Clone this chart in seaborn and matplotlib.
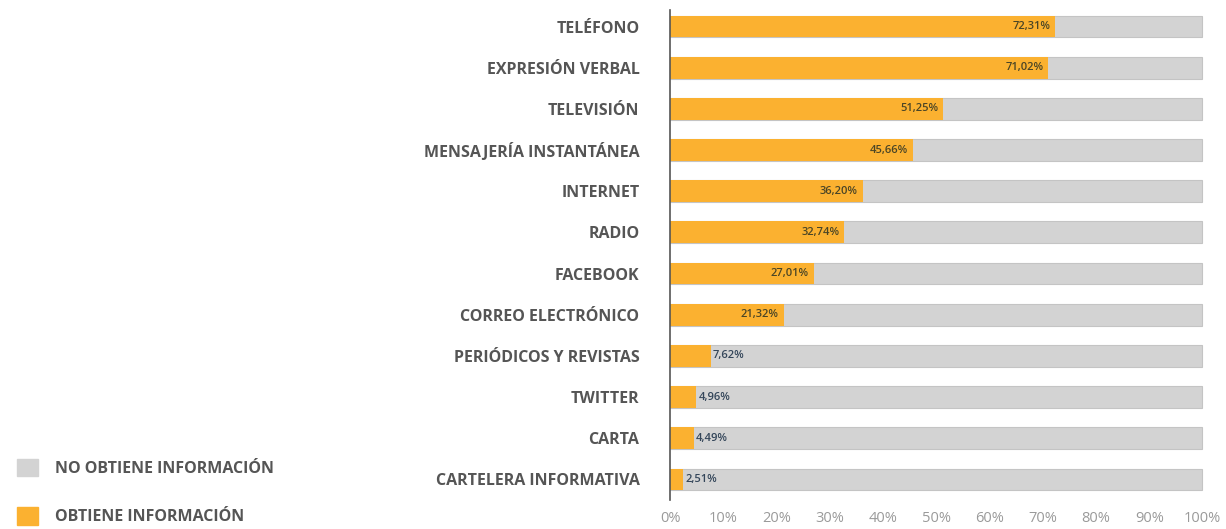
import numpy as np
import pandas as pd
import matplotlib
matplotlib.use("Agg")
import matplotlib.pyplot as plt
import matplotlib.patches as mpatches
import seaborn as sns

# data
medios = ["TELÉFONO", "EXPRESIÓN VERBAL", "TELEVISIÓN", "MENSAJERÍA INSTANTÁNEA",
          "INTERNET", "RADIO", "FACEBOOK", "CORREO ELECTRÓNICO",
          "PERIÓDICOS Y REVISTAS", "TWITTER", "CARTA", "CARTELERA INFORMATIVA"]
obtiene = [72.31, 71.02, 51.25, 45.66, 36.20, 32.74, 27.01, 21.32, 7.62, 4.96, 4.49, 2.51]
total = [100] * len(medios)
xticks = [0, 10, 20, 30, 40, 50, 60, 70, 80, 90, 100]

naranja = "#FBB130"
gris = "#D3D3D3"

sns.set_theme(style="white")
plt.rcParams["font.family"] = ["Open Sans", "DejaVu Sans"]

df = pd.DataFrame({"medio": medios, "obtiene": obtiene, "total": total})

fig = plt.figure(figsize=(12.26, 5.29), dpi=100)
ax = fig.add_axes([0.5465, 0.0548, 0.4365, 0.9262])

sns.barplot(data=df, y="medio", x="total", color=gris, width=0.53, saturation=1,
            edgecolor="#c4c4c4", linewidth=0.8, ax=ax)
sns.barplot(data=df, y="medio", x="obtiene", color=naranja, width=0.53, saturation=1,
            linewidth=0, ax=ax)

# value labels
for i, v in enumerate(obtiene):
    txt = f"{v:.2f}%".replace(".", ",")
    if v >= 10:
        ax.text(v - 0.9, i, txt, ha="right", va="center", fontsize=8,
                color="#4a4526", fontweight="semibold")
    else:
        ax.text(v + 0.4, i, txt, ha="left", va="center", fontsize=8,
                color="#34465a", fontweight="semibold")

ax.set_xlim(0, 100.5)
ax.set_ylim(11.5, -0.4)
ax.set_xticks(xticks)
ax.set_xticklabels([f"{t}%" for t in xticks])
ax.set_xlabel("")
ax.set_ylabel("")
ax.tick_params(axis="x", length=0, pad=8, labelsize=10.5, labelcolor="#9a9a9a")
ax.tick_params(axis="y", length=0, pad=22, labelsize=11.5, labelcolor="#555555")
for lab in ax.get_yticklabels():
    lab.set_fontweight("bold")

for s in ["top", "right", "bottom"]:
    ax.spines[s].set_visible(False)
ax.spines["left"].set_color("#555555")
ax.spines["left"].set_linewidth(1.2)

# legend, bottom left
handles = [mpatches.Patch(color=gris, label="NO OBTIENE INFORMACIÓN"),
           mpatches.Patch(color=naranja, label="OBTIENE INFORMACIÓN")]
leg = fig.legend(handles=handles, loc="lower left", bbox_to_anchor=(0.002, -0.02),
                 frameon=False, handlelength=1.3, handleheight=1.3,
                 labelspacing=1.9, handletextpad=1.1,
                 prop={"weight": "bold", "size": 11.5})
for t in leg.get_texts():
    t.set_color("#555555")

fig.savefig("out.png", dpi=100)
